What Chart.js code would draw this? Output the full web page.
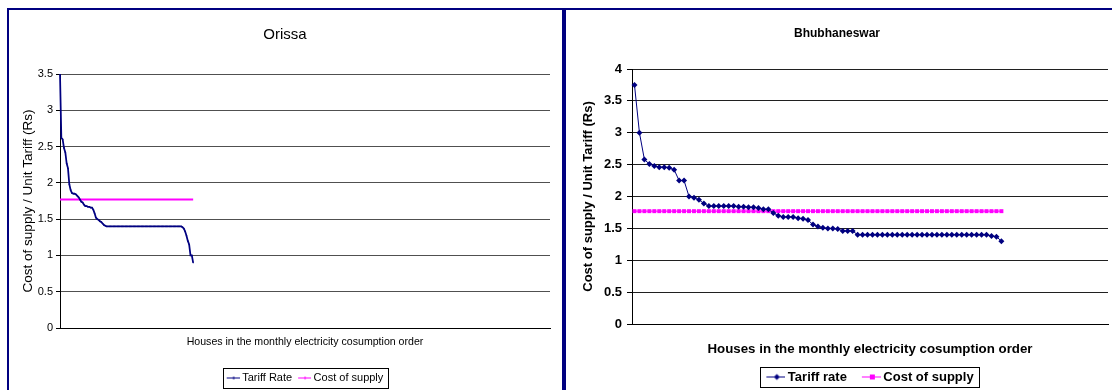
<!DOCTYPE html>
<html>
<head>
<meta charset="utf-8">
<title>Tariff rate vs cost of supply</title>
<script src="https://cdn.jsdelivr.net/npm/chart.js@4.4.1/dist/chart.umd.min.js"></script>
<style>
  html, body { margin: 0; padding: 0; background: #fff; overflow: hidden; width: 1112px; height: 390px; }
  #frame { position: absolute; left: 7px; top: 8px; width: 1200px; height: 500px;
           border-top: 2px solid #000080; border-left: 2px solid #000080; }
  #divider { position: absolute; left: 562px; top: 8px; width: 4px; height: 420px; background: #000080; }
  canvas { position: absolute; }
  #orissa { left: 9px; top: 10px; }
  #bbsr { left: 566px; top: 10px; }
</style>
</head>
<body>
<div id="frame"></div>
<div id="divider"></div>
<canvas id="orissa" width="553" height="400"></canvas>
<canvas id="bbsr" width="546" height="400"></canvas>
<script>
const FONT = "'Liberation Sans', Arial, Helvetica, sans-serif";

// ---- Orissa: tariff per unit for houses sorted by monthly consumption ----
const orissaTariff = [
  3.50, 2.62, 2.60, 2.48, 2.42, 2.27, 2.20, 1.98, 1.90, 1.86,
  1.85, 1.85, 1.84, 1.82, 1.80, 1.77, 1.74, 1.73, 1.70, 1.68,
  1.68, 1.67, 1.67, 1.66, 1.66, 1.63, 1.58, 1.52, 1.50, 1.49,
  1.47, 1.46, 1.44, 1.42, 1.41, 1.40, 1.40, 1.40, 1.40, 1.40,
  1.40, 1.40, 1.40, 1.40, 1.40, 1.40, 1.40, 1.40, 1.40, 1.40,
  1.40, 1.40, 1.40, 1.40, 1.40, 1.40, 1.40, 1.40, 1.40, 1.40,
  1.40, 1.40, 1.40, 1.40, 1.40, 1.40, 1.40, 1.40, 1.40, 1.40,
  1.40, 1.40, 1.40, 1.40, 1.40, 1.40, 1.40, 1.40, 1.40, 1.40,
  1.40, 1.40, 1.40, 1.40, 1.40, 1.40, 1.40, 1.40, 1.40, 1.40,
  1.40, 1.40, 1.39, 1.37, 1.33, 1.27, 1.20, 1.15, 1.00, 1.00,
  0.90
];
const orissaCost = [
  1.77, 1.77, 1.77, 1.77, 1.77, 1.77, 1.77, 1.77, 1.77, 1.77,
  1.77, 1.77, 1.77, 1.77, 1.77, 1.77, 1.77, 1.77, 1.77, 1.77,
  1.77, 1.77, 1.77, 1.77, 1.77, 1.77, 1.77, 1.77, 1.77, 1.77,
  1.77, 1.77, 1.77, 1.77, 1.77, 1.77, 1.77, 1.77, 1.77, 1.77,
  1.77, 1.77, 1.77, 1.77, 1.77, 1.77, 1.77, 1.77, 1.77, 1.77,
  1.77, 1.77, 1.77, 1.77, 1.77, 1.77, 1.77, 1.77, 1.77, 1.77,
  1.77, 1.77, 1.77, 1.77, 1.77, 1.77, 1.77, 1.77, 1.77, 1.77,
  1.77, 1.77, 1.77, 1.77, 1.77, 1.77, 1.77, 1.77, 1.77, 1.77,
  1.77, 1.77, 1.77, 1.77, 1.77, 1.77, 1.77, 1.77, 1.77, 1.77,
  1.77, 1.77, 1.77, 1.77, 1.77, 1.77, 1.77, 1.77, 1.77, 1.77,
  1.77
];
// house positions along the Orissa category axis
const orissaHouses = Array.from({ length: 369 }, (_, i) => String(i + 1));

// ---- Bhubhaneswar ----
const bbsrTariff = [
  3.75, 3.00, 2.58, 2.51, 2.48, 2.46, 2.46, 2.45, 2.42, 2.25,
  2.25, 2.00, 1.98, 1.95, 1.89, 1.85, 1.85, 1.85, 1.85, 1.85,
  1.85, 1.84, 1.84, 1.83, 1.83, 1.82, 1.80, 1.80, 1.74, 1.70,
  1.68, 1.68, 1.68, 1.66, 1.65, 1.63, 1.56, 1.53, 1.51, 1.50,
  1.50, 1.49, 1.46, 1.46, 1.46, 1.40, 1.40, 1.40, 1.40, 1.40,
  1.40, 1.40, 1.40, 1.40, 1.40, 1.40, 1.40, 1.40, 1.40, 1.40,
  1.40, 1.40, 1.40, 1.40, 1.40, 1.40, 1.40, 1.40, 1.40, 1.40,
  1.40, 1.40, 1.38, 1.37, 1.30
];
const bbsrCost = [
  1.77, 1.77, 1.77, 1.77, 1.77, 1.77, 1.77, 1.77, 1.77, 1.77,
  1.77, 1.77, 1.77, 1.77, 1.77, 1.77, 1.77, 1.77, 1.77, 1.77,
  1.77, 1.77, 1.77, 1.77, 1.77, 1.77, 1.77, 1.77, 1.77, 1.77,
  1.77, 1.77, 1.77, 1.77, 1.77, 1.77, 1.77, 1.77, 1.77, 1.77,
  1.77, 1.77, 1.77, 1.77, 1.77, 1.77, 1.77, 1.77, 1.77, 1.77,
  1.77, 1.77, 1.77, 1.77, 1.77, 1.77, 1.77, 1.77, 1.77, 1.77,
  1.77, 1.77, 1.77, 1.77, 1.77, 1.77, 1.77, 1.77, 1.77, 1.77,
  1.77, 1.77, 1.77, 1.77, 1.77
];
const bbsrHouses = Array.from({ length: 96 }, (_, i) => String(i + 1));

// axis ranges and labels
const orissaYMax = 3.5;
const bbsrYMax = 4;
const yStep = 0.5;
const xTitle = 'Houses in the monthly electricity cosumption order';
const yTitle = 'Cost of supply / Unit Tariff (Rs)';
// tick text: whole numbers without a trailing ".0"
const tickText = v => String(Math.round(v * 10) / 10);

const NAVY = '#000080';
const MAGENTA = '#FF00FF';

// small "line with marker" swatch used as a legend point style
function legendSymbol(color, marker, lineLen, imgW, lineWidth) {
  const c = document.createElement('canvas');
  c.width = imgW; c.height = 9;
  const g = c.getContext('2d');
  const x0 = imgW - lineLen, cy = 4.5;
  g.strokeStyle = color; g.lineWidth = lineWidth;
  g.beginPath(); g.moveTo(x0, cy); g.lineTo(imgW, cy); g.stroke();
  const mx = Math.round(x0 + lineLen / 2) + 0.5;
  g.fillStyle = color;
  if (marker === 'diamond') {
    g.beginPath(); g.moveTo(mx, cy - 3); g.lineTo(mx + 3, cy); g.lineTo(mx, cy + 3); g.lineTo(mx - 3, cy); g.closePath(); g.fill();
  } else if (marker === 'square') {
    g.fillRect(mx - 2.5, cy - 2.5, 5, 5);
  } else if (marker === 'dot') {
    g.fillRect(mx - 1.5, cy - 1, 2, 2);
  }
  return c;
}

// thin frame around the legend items
const legendFrame = {
  id: 'legendFrame',
  afterDraw(chart, args, opts) {
    const boxes = chart.legend && chart.legend.legendHitBoxes;
    if (!boxes || !boxes.length) return;
    let l = Infinity, r = -Infinity;
    boxes.forEach(b => { l = Math.min(l, b.left); r = Math.max(r, b.left + b.width); });
    const top = boxes[0].top, h = boxes[0].height;
    const ctx = chart.ctx;
    ctx.save();
    ctx.strokeStyle = '#000';
    ctx.lineWidth = 1;
    ctx.strokeRect(Math.round(l - opts.padL) + 0.5, Math.round(top - opts.padV) + 0.5,
                   Math.round(r - l + opts.padL + opts.padR), Math.round(h + 2 * opts.padV));
    ctx.restore();
  }
};

function legendLabels(symbols) {
  return chart => chart.data.datasets.map((ds, i) => ({
    text: ds.label, pointStyle: symbols[i], fillStyle: ds.borderColor,
    strokeStyle: ds.borderColor, lineWidth: 0, hidden: false, datasetIndex: i, fontColor: '#000'
  }));
}

// ---- Orissa chart ----
const fOr = { family: FONT, size: 11, weight: 'normal' };
const orSymbols = [legendSymbol(NAVY, 'dot', 13, 16, 1), legendSymbol(MAGENTA, 'dot', 13, 16, 1)];
new Chart(document.getElementById('orissa'), {
  type: 'line',
  data: {
    labels: orissaHouses,
    datasets: [
      { label: 'Tariff Rate', data: orissaTariff, borderColor: NAVY, backgroundColor: NAVY,
        borderWidth: 1.75, pointRadius: 0.9, pointStyle: 'rectRot', pointBorderWidth: 0, tension: 0 },
      { label: 'Cost of supply', data: orissaCost, borderColor: MAGENTA, backgroundColor: MAGENTA,
        borderWidth: 2, pointRadius: 0, tension: 0 }
    ]
  },
  options: {
    responsive: false, animation: false, devicePixelRatio: 1,
    layout: { padding: { left: 11, right: 12, top: 0, bottom: 16.5 } },
    plugins: {
      tooltip: { enabled: false },
      title: { display: true, text: 'Orissa', color: '#000', fullSize: true,
               font: { family: FONT, size: 15, weight: 'normal' }, padding: { top: 16, bottom: 30 } },
      legend: {
        position: 'bottom', fullSize: false,
        labels: { font: fOr, color: '#000', padding: 6, usePointStyle: true, pointStyleWidth: 10,
                  generateLabels: legendLabels(orSymbols) }
      },
      legendFrame: { padL: 4, padR: 4, padV: 4.5 }
    },
    scales: {
      x: {
        type: 'category', offset: false,
        grid: { display: false, drawTicks: false },
        border: { display: true, color: '#000', width: 1 },
        ticks: { display: false },
        title: { display: true, text: xTitle, color: '#000', font: { family: FONT, size: 10.6 },
                 padding: { top: 0, bottom: 17.9 } },
        afterFit: s => { s.height = 38.5; }
      },
      y: {
        min: 0, max: orissaYMax,
        ticks: { stepSize: yStep, font: fOr, color: '#000', padding: 3, callback: tickText },
        grid: { color: '#505050', lineWidth: 1, tickLength: 4, tickColor: '#000' },
        border: { display: true, color: '#000', width: 1 },
        title: { display: true, text: yTitle, color: '#000', font: { family: FONT, size: 13.5 },
                 padding: { top: 0, bottom: 0 } },
        afterFit: s => { s.width = 40; }
      }
    }
  },
  plugins: [legendFrame]
});

// ---- Bhubhaneswar chart ----
const fB = { family: FONT, size: 13, weight: 'bold' };
const bSymbols = [legendSymbol(NAVY, 'diamond', 19, 23, 1), legendSymbol(MAGENTA, 'square', 19, 23, 1)];
new Chart(document.getElementById('bbsr'), {
  type: 'line',
  data: {
    labels: bbsrHouses,
    datasets: [
      { label: 'Tariff rate', data: bbsrTariff, borderColor: NAVY, backgroundColor: NAVY,
        borderWidth: 1, pointRadius: 3, pointStyle: 'rectRot', pointBorderWidth: 0, tension: 0 },
      { label: 'Cost of supply', data: bbsrCost, borderColor: MAGENTA, backgroundColor: MAGENTA,
        borderWidth: 1, pointRadius: 2.8, pointStyle: 'rect', pointBorderWidth: 0, tension: 0 }
    ]
  },
  options: {
    responsive: false, animation: false, devicePixelRatio: 1,
    layout: { padding: { left: 0, right: 4, top: 0, bottom: 16.5 } },
    plugins: {
      tooltip: { enabled: false },
      title: { display: true, text: 'Bhubhaneswar', color: '#000', fullSize: true,
               font: { family: FONT, size: 12, weight: 'bold' }, padding: { top: 16.3, bottom: 28.3 } },
      legend: {
        position: 'bottom', fullSize: false,
        labels: { font: fB, color: '#000', padding: 15, usePointStyle: true, pointStyleWidth: 15,
                  generateLabels: legendLabels(bSymbols) }
      },
      legendFrame: { padL: 6, padR: 6, padV: 3.5 }
    },
    scales: {
      x: {
        type: 'category', offset: true,
        grid: { display: false, drawTicks: false },
        border: { display: true, color: '#000', width: 1 },
        ticks: { display: false },
        title: { display: true, text: xTitle, color: '#000', font: { family: FONT, size: 13.3, weight: 'bold' },
                 padding: { top: 0, bottom: -2 } },
        afterFit: s => { s.height = 31.5; }
      },
      y: {
        min: 0, max: bbsrYMax,
        ticks: { stepSize: yStep, font: fB, color: '#000', padding: 5, callback: tickText },
        grid: { color: '#202020', lineWidth: 1, tickLength: 5, tickColor: '#000' },
        border: { display: true, color: '#000', width: 1 },
        title: { display: true, text: yTitle, color: '#000', font: fB, padding: { top: 14.8, bottom: 0 } },
        afterFit: s => { s.width = 66; }
      }
    }
  },
  plugins: [legendFrame]
});
</script>
</body>
</html>
